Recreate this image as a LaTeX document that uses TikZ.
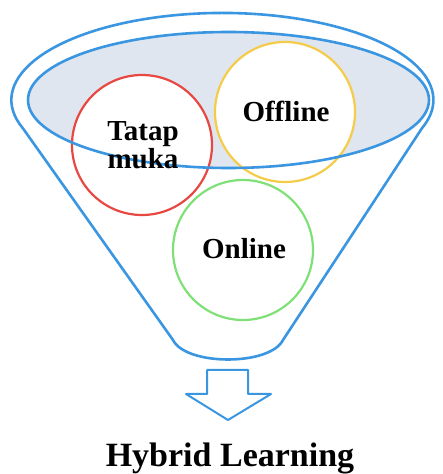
\documentclass[tikz,border=0pt]{standalone}
\usepackage{fontspec}
\setmainfont{Liberation Serif}
\definecolor{funnelblue}{RGB}{58,150,225}
\definecolor{rimfill}{RGB}{224,230,240}
\definecolor{ringred}{RGB}{232,72,66}
\definecolor{ringyellow}{RGB}{244,204,72}
\definecolor{ringgreen}{RGB}{128,224,120}
\begin{document}
\begin{tikzpicture}[x=1pt,y=1pt,
  funnel/.style={draw=funnelblue,line width=2.6pt,line join=round},
  ring/.style={circle,minimum size=140pt,inner sep=0pt,fill=white,line width=2.2pt},
  ringtext/.style={font=\bfseries\fontsize{29}{28}\selectfont,text=black,align=center,inner sep=0pt},
  caption/.style={font=\bfseries\fontsize{34}{34}\selectfont,text=black,inner sep=0pt}]
\useasboundingbox (0,0) rectangle (443,474);

% outer funnel: elliptical rim, straight sides, rounded spout
\draw[funnel] (173,134) -- (22.9,345.7)
  arc[start angle=199,end angle=-19,x radius=211,y radius=87]
  -- (283,134) .. controls (270,108) and (186,108) .. (173,134) -- cycle;

% inner rim surface
\fill[rimfill] (228.5,374) ellipse[x radius=200.5,y radius=68];

% the three learning modes
\node[ring,draw=ringred]    (tatap)   at (142,329) {};
\node[ring,draw=ringyellow] (offline) at (285,362) {};
\node[ring,draw=ringgreen]  (online)  at (243,224) {};

% rim edge drawn over the circles
\draw[funnel] (228.5,374) ellipse[x radius=200.5,y radius=68];

\node[ringtext] (tatapT)   at (143,329) {Tatap\\muka};
\node[ringtext] (offlineT) at (286,363) {Offline};
\node[ringtext] (onlineT)  at (244,225) {Online};

% outlined down arrow
\draw[funnel,line width=2pt] (207,104) -- (248,104) -- (248,80) -- (271,80)
  -- (228,54) -- (186,80) -- (207,80) -- cycle;

\node[caption,anchor=base] (result) at (230,7) {Hybrid Learning};
\end{tikzpicture}
\end{document}
